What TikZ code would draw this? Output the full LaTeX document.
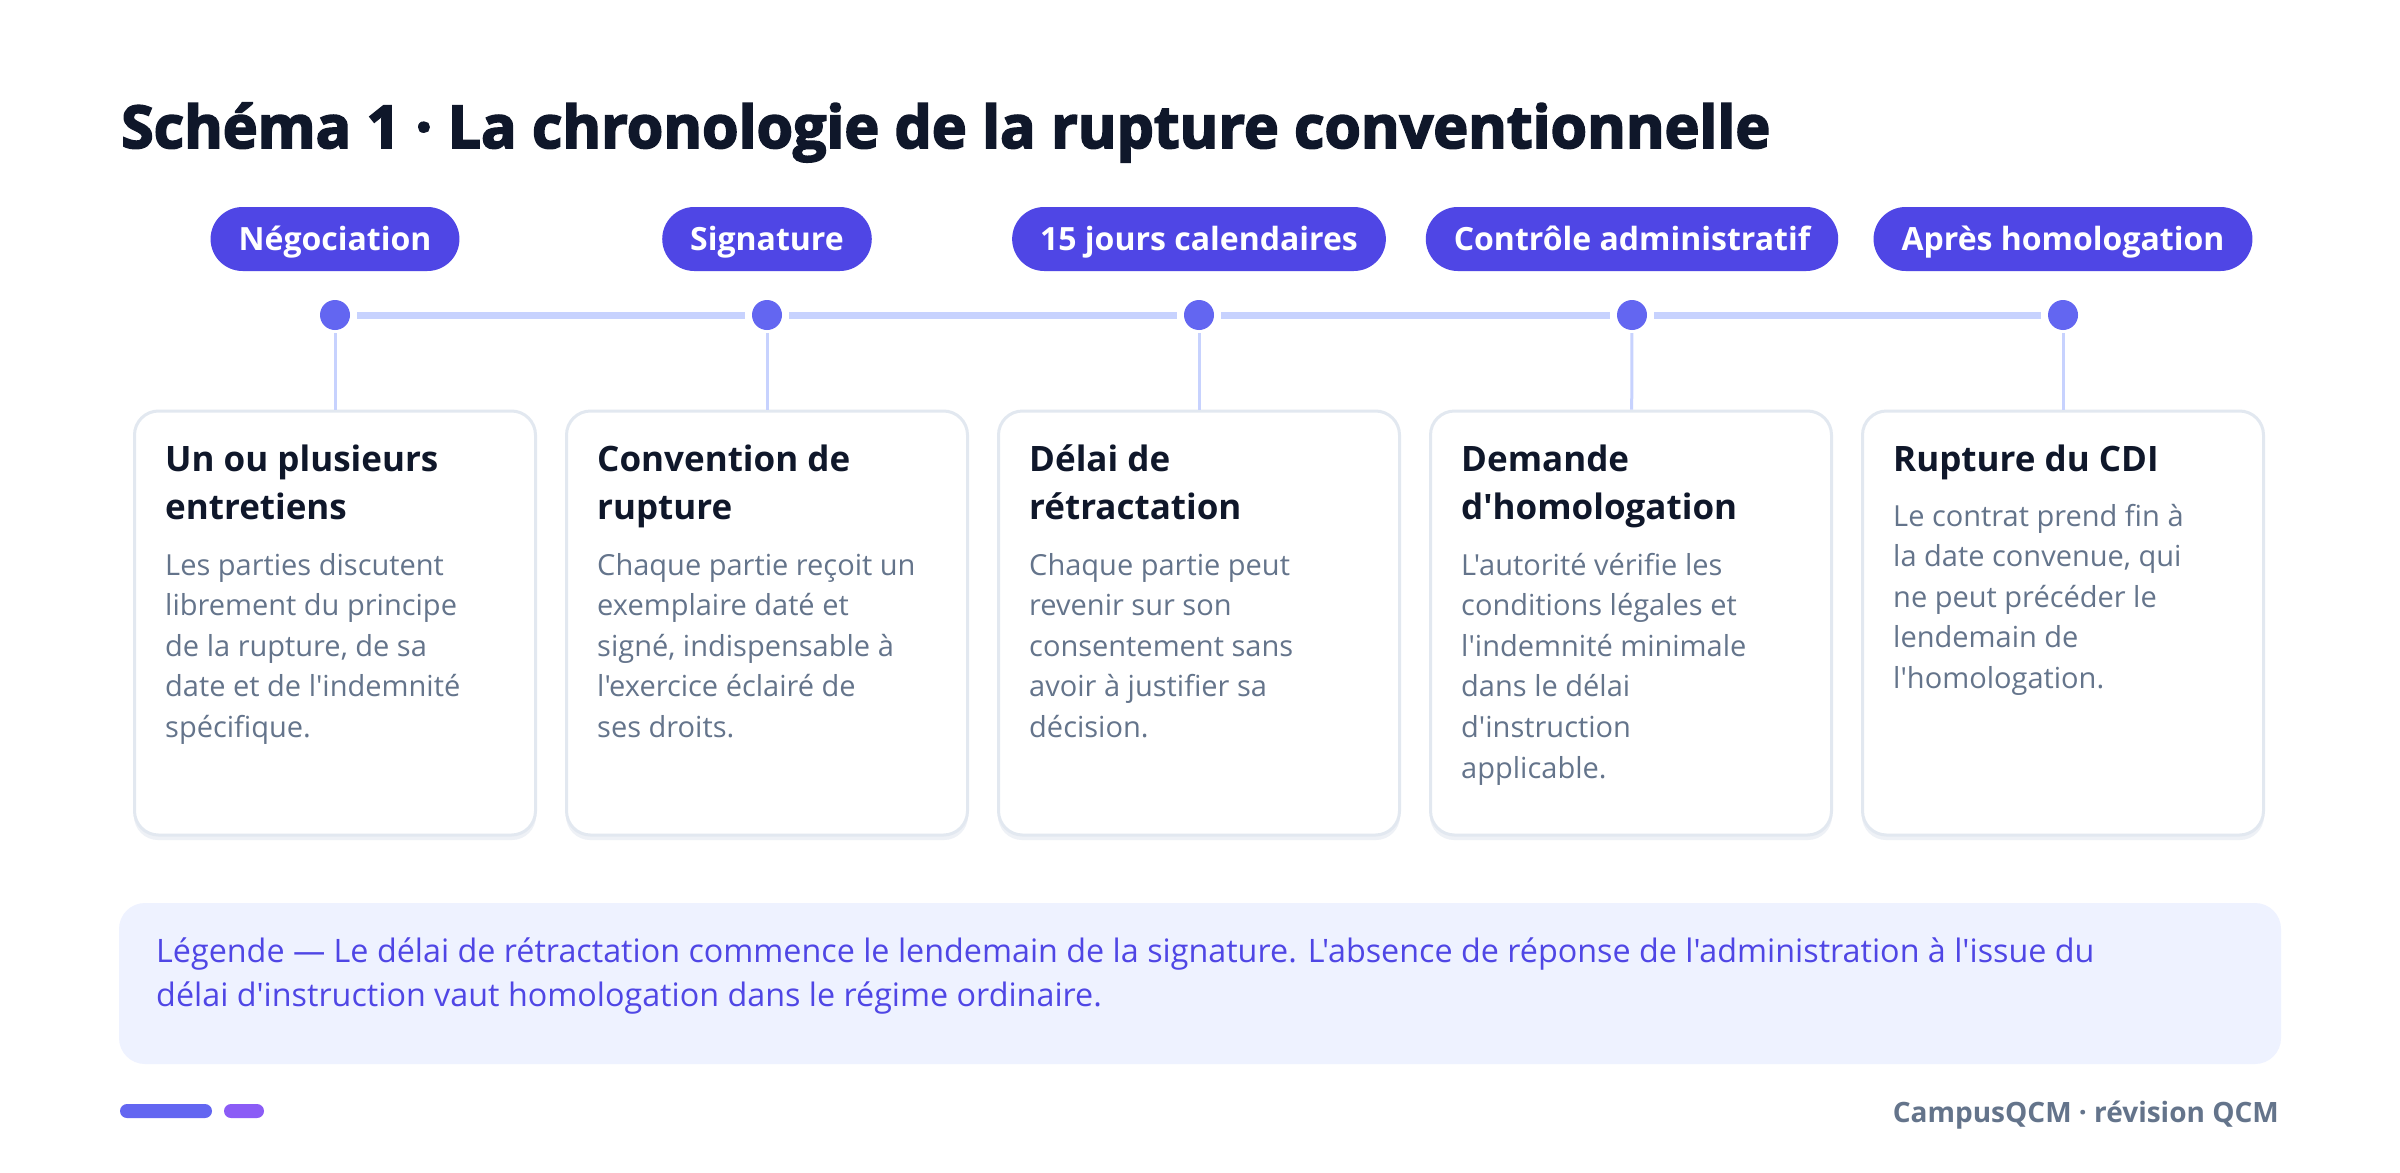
\documentclass[tikz,border=0pt]{standalone}
\usepackage{fontspec}
\newfontfamily\bodyf{Open Sans}
\newfontfamily\titlef[BoldFeatures={FakeBold=3}]{Open Sans}
\definecolor{titlec}{HTML}{0F172A}
\definecolor{pillc}{HTML}{4F46E5}
\definecolor{dotc}{HTML}{6366F1}
\definecolor{trackc}{HTML}{C7D2FE}
\definecolor{cardb}{HTML}{E2E8F0}
\definecolor{shadowc}{HTML}{EEF1F6}
\definecolor{headc}{HTML}{0F172A}
\definecolor{bodyc}{HTML}{64748B}
\definecolor{legfill}{HTML}{EEF2FF}
\definecolor{legtext}{HTML}{4F46E5}
\definecolor{barone}{HTML}{6366F1}
\definecolor{bartwo}{HTML}{8B5CF6}
\newcommand\blk[3]{\vtop{\hsize=#1pt\parindent=0pt\parskip=0pt\baselineskip=#2pt\lineskip=0pt\lineskiplimit=-200pt\rightskip=0pt plus 1fil\relax #3\par}}
\begin{document}
\begin{tikzpicture}[x=1pt,y=-1pt,
  pill/.style={fill=pillc, text=white, rounded corners=32pt, minimum height=64pt, inner xsep=28pt, inner ysep=0pt, text height=22.5pt, text depth=0pt, font=\bodyf\bfseries\fontsize{32}{34}\selectfont},
  dot/.style={circle, fill=dotc, minimum size=30pt, inner sep=0pt, preaction={draw=white, fill=white, line width=14pt}},
  card/.style={rounded corners=24pt, draw=cardb, line width=3pt, fill=white, minimum width=401pt, minimum height=424pt, inner sep=0pt},
  head/.style={anchor=base west, inner sep=0pt, text=headc, font=\bodyf\bfseries\fontsize{35}{48}\selectfont},
  body/.style={anchor=base west, inner sep=0pt, text=bodyc, font=\bodyf\fontsize{29}{40.6}\selectfont},
  track/.style={draw=trackc, line width=7pt, shorten <=7pt, shorten >=7pt},
  link/.style={draw=trackc, line width=3pt, shorten <=3pt}
]
\useasboundingbox (0,0) rectangle (2400,1172);
\fill[white] (0,0) rectangle (2400,1172);

% title
\node[anchor=base west, inner sep=0pt, text=titlec, font=\titlef\bfseries\fontsize{59}{62}\selectfont] (title) at (121,148) {Schéma 1 · La chronologie de la rupture conventionnelle};

% pills
\node[pill] (p1) at (335,239) {Négociation};
\node[pill] (p2) at (767,239) {Signature};
\node[pill] (p3) at (1199,239) {15 jours calendaires};
\node[pill] (p4) at (1632,239) {Contrôle administratif};
\node[pill] (p5) at (2063,239) {Après homologation};

% dots
\node[dot] (d1) at (335,315) {};
\node[dot] (d2) at (767,315) {};
\node[dot] (d3) at (1199,315) {};
\node[dot] (d4) at (1632,315) {};
\node[dot] (d5) at (2063,315) {};
\draw[track] (d1) -- (d2);
\draw[track] (d2) -- (d3);
\draw[track] (d3) -- (d4);
\draw[track] (d4) -- (d5);

% card shadows
\foreach \cx in {335,767,1199,1631,2063}{
  \fill[shadowc, rounded corners=24pt] (\cx-201,416) rectangle (\cx+201,840);
}
% cards
\node[card] (c1) at (335,623) {};
\node[card] (c2) at (767,623) {};
\node[card] (c3) at (1199,623) {};
\node[card] (c4) at (1631,623) {};
\node[card] (c5) at (2063,623) {};
\draw[link] (d1) -- (c1);
\draw[link] (d2) -- (c2);
\draw[link] (d3) -- (c3);
\draw[link] (d4) -- (c4);
\draw[link] (d5) -- (c5);

% card texts
\node[head] (h1) at (165,471) {\blk{370}{48}{Un ou plusieurs\\entretiens}};
\node[body] (b1) at (165,575) {\blk{370}{40.6}{Les parties discutent\\librement du principe\\de la rupture, de sa\\date et de l'indemnité\\spécifique.}};

\node[head] (h2) at (597,471) {\blk{370}{48}{Convention de\\rupture}};
\node[body] (b2) at (597,575) {\blk{370}{40.6}{Chaque partie reçoit un\\exemplaire daté et\\signé, indispensable à\\l'exercice éclairé de\\ses droits.}};

\node[head] (h3) at (1029,471) {\blk{370}{48}{Délai de\\rétractation}};
\node[body] (b3) at (1029,575) {\blk{370}{40.6}{Chaque partie peut\\revenir sur son\\consentement sans\\avoir à justifier sa\\décision.}};

\node[head] (h4) at (1461,471) {\blk{370}{48}{Demande\\d'homologation}};
\node[body] (b4) at (1461,575) {\blk{370}{40.6}{L'autorité vérifie les\\conditions légales et\\l'indemnité minimale\\dans le délai\\d'instruction\\applicable.}};

\node[head] (h5) at (1893,471) {\blk{370}{48}{Rupture du CDI}};
\node[body] (b5) at (1893,526) {\blk{370}{40.6}{Le contrat prend fin à\\la date convenue, qui\\ne peut précéder le\\lendemain de\\l'homologation.}};

% legend
\node[fill=legfill, rounded corners=26pt, minimum width=2162pt, minimum height=161pt, inner sep=0pt] (leg) at (1200,983.5) {};
\node[anchor=base west, inner sep=0pt, text=legtext, font=\bodyf\fontsize{32.3}{44}\selectfont] (legt) at (156,962) {\blk{2100}{44}{Légende — Le délai de rétractation commence le lendemain de la signature. L'absence de réponse de l'administration à l'issue du\\délai d'instruction vaut homologation dans le régime ordinaire.}};

% footer
\fill[barone, rounded corners=7pt] (120,1104) rectangle (212,1118);
\fill[bartwo, rounded corners=7pt] (224,1104) rectangle (264,1118);
\node[anchor=base east, inner sep=0pt, text=bodyc, font=\bodyf\bfseries\fontsize{28}{30}\selectfont] (foot) at (2279,1122) {CampusQCM · révision QCM};
\end{tikzpicture}
\end{document}
